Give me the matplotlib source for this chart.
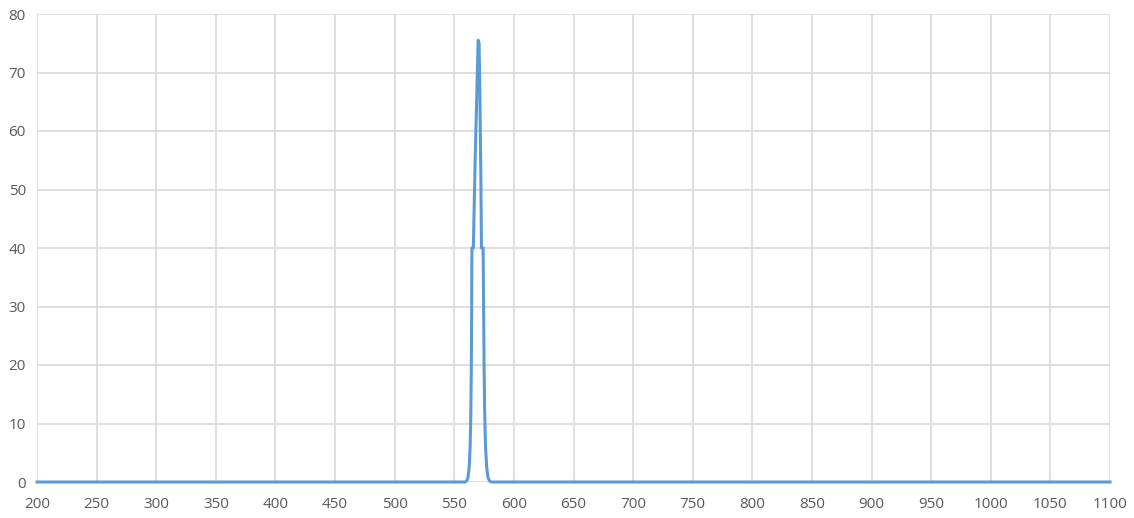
import numpy as np
import matplotlib.pyplot as plt

# spectrum (wavelength, transmission)
wl = [200, 559, 560.5, 561.5, 562.5, 563.3, 563.9, 564.3, 564.6, 564.8, 566.0,
      567.5, 569.0, 570.0, 570.8, 571.5, 572.3, 572.8, 574.2, 574.6, 575.0,
      575.5, 576.2, 577.2, 578.3, 579.5, 581, 1100]
trans = [0, 0, 0.2, 0.8, 2.5, 6, 12, 20, 30, 40, 40,
         55, 67, 75.5, 75, 66, 52, 40, 40, 30, 20,
         12, 6, 2.5, 0.8, 0.2, 0, 0]

xticks = np.arange(200, 1101, 50)
yticks = np.arange(0, 81, 10)

plt.rcParams['font.family'] = ['Open Sans', 'DejaVu Sans']
fig = plt.figure(figsize=(11.34, 5.18), dpi=100)
ax = fig.add_axes([37/1134, 36/518, (1110-37)/1134, (482-14)/518])
ax.plot(wl, trans, color='#5b9bd5', lw=2.2, zorder=3, clip_on=False)
ax.set_xlim(200, 1100)
ax.set_ylim(0, 80)
ax.set_xticks(xticks)
ax.set_yticks(yticks)
ax.grid(True, color='#d9d9d9', lw=1.2)
ax.set_axisbelow(True)
for s in ax.spines.values():
    s.set_visible(False)
ax.tick_params(length=0, labelsize=11, labelcolor='#595959')
ax.tick_params(axis='x', pad=11)
ax.tick_params(axis='y', pad=8)
fig.savefig('out.png', dpi=100)
